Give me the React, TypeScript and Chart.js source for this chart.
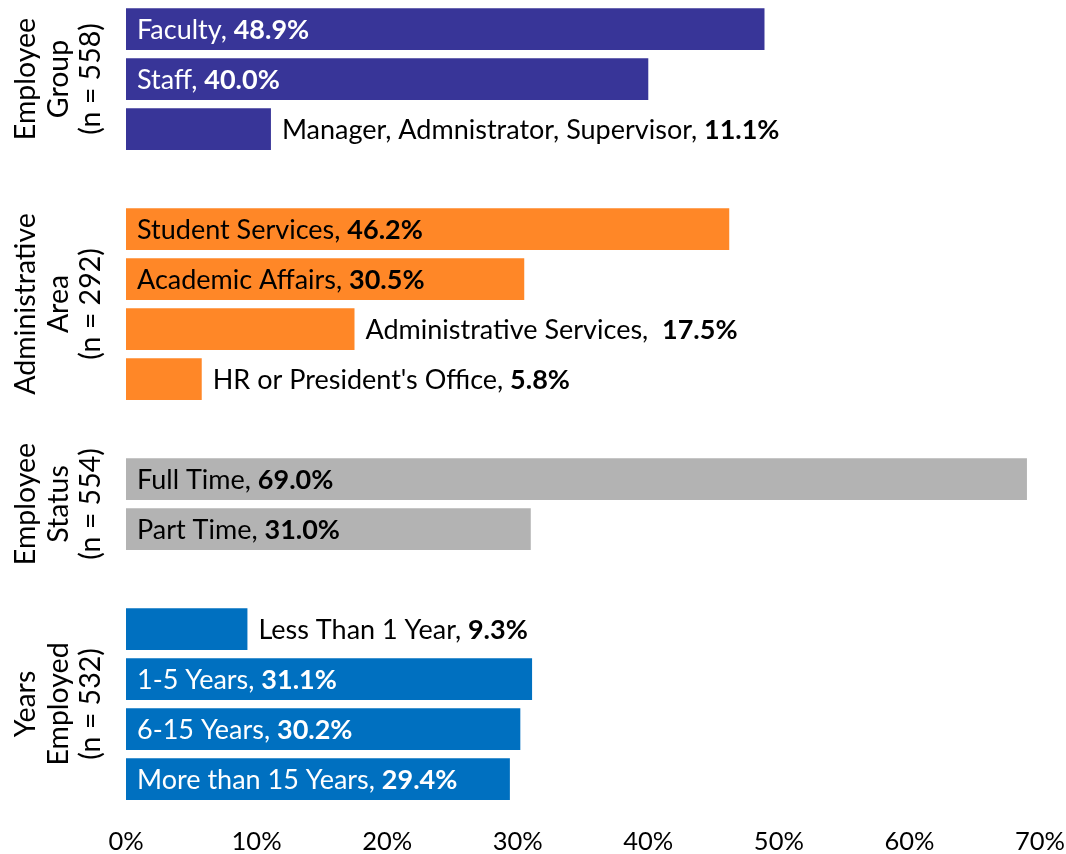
import React, { useEffect, useRef } from 'react';
import { Chart, registerables } from 'chart.js';

Chart.register(...registerables);

// ---- Data ----
const groupTitles: string[][] = [
  ['Employee', 'Group', '(n = 558)'],
  ['Administrative', 'Area', '(n = 292)'],
  ['Employee', 'Status', '(n = 554)'],
  ['Years', 'Employed', '(n = 532)'],
];

const employeeGroupCategories = ['Faculty', 'Staff', 'Manager, Admnistrator, Supervisor'];
const employeeGroupValues = [48.9, 40.0, 11.1];

const adminAreaCategories = ['Student Services', 'Academic Affairs', 'Administrative Services', "HR or President's Office"];
const adminAreaValues = [46.2, 30.5, 17.5, 5.8];
const adminAreaSeparators = [', ', ', ', ',  ', ', '];

const employeeStatusCategories = ['Full Time', 'Part Time'];
const employeeStatusValues = [69.0, 31.0];

const yearsCategories = ['Less Than 1 Year', '1-5 Years', '6-15 Years', 'More than 15 Years'];
const yearsValues = [9.3, 31.1, 30.2, 29.4];

const xTickValues = [0, 10, 20, 30, 40, 50, 60, 70];

// ---- Styles ----
const groupColors = ['#383598', '#FF8727', '#B3B3B3', '#0070C0'];
const groupInsideTextColors = ['#FFFFFF', '#000000', '#000000', '#FFFFFF'];
const FONT = 'Lato, "Open Sans", sans-serif';
const LABEL_SIZE = 27;

const groupCats = [employeeGroupCategories, adminAreaCategories, employeeStatusCategories, yearsCategories];
const groupVals = [employeeGroupValues, adminAreaValues, employeeStatusValues, yearsValues];
const groupSeps = [null, adminAreaSeparators, null, null];

// Build rows with spacer rows between groups
const rowLabels: string[] = [];
const rowValues: (number | null)[] = [];
const rowGroup: number[] = [];
const rowSeps: string[] = [];
groupCats.forEach((cats, g) => {
  if (g > 0) {
    rowLabels.push('');
    rowValues.push(null);
    rowGroup.push(-1);
    rowSeps.push('');
  }
  cats.forEach((c, i) => {
    rowLabels.push(c);
    rowValues.push(groupVals[g][i]);
    rowGroup.push(g);
    const s = groupSeps[g];
    rowSeps.push(s ? s[i] : ', ');
  });
});

const labelPlugin = {
  id: 'barLabels',
  afterDatasetsDraw(chart: any) {
    const ctx = chart.ctx;
    const meta = chart.getDatasetMeta(0);
    ctx.save();
    meta.data.forEach((el: any, i: number) => {
      const v = rowValues[i];
      if (v == null) return;
      const g = rowGroup[i];
      const inside = v >= 20;
      const normal = rowLabels[i] + rowSeps[i];
      const bold = v.toFixed(1) + '%';
      const startX = inside ? el.base + 11 : el.x + 11;
      const y = el.y + 9.5;
      ctx.fillStyle = inside ? groupInsideTextColors[g] : '#000000';
      ctx.textAlign = 'left';
      ctx.textBaseline = 'alphabetic';
      ctx.font = `${LABEL_SIZE}px ${FONT}`;
      ctx.fillText(normal, startX, y);
      const w = ctx.measureText(normal).width;
      ctx.font = `bold ${LABEL_SIZE}px ${FONT}`;
      ctx.fillText(bold, startX + w, y);
    });

    // Group titles (rotated)
    const yScale = chart.scales.y;
    let rowStart = 0;
    groupCats.forEach((cats, g) => {
      const first = rowStart;
      const last = rowStart + cats.length - 1;
      const cy = (yScale.getPixelForValue(first) + yScale.getPixelForValue(last)) / 2;
      const baselines = [35, 68, 100];
      ctx.fillStyle = '#000000';
      ctx.font = `28.5px ${FONT}`;
      ctx.textAlign = 'center';
      ctx.textBaseline = 'alphabetic';
      groupTitles[g].forEach((line, k) => {
        ctx.save();
        ctx.translate(baselines[k], cy);
        ctx.rotate(-Math.PI / 2);
        ctx.fillText(line, 0, 0);
        ctx.restore();
      });
      rowStart += cats.length + 1;
    });
    ctx.restore();
  },
};

export default function App() {
  const canvasRef = useRef<HTMLCanvasElement>(null);

  useEffect(() => {
    if (!canvasRef.current) return;
    const chart = new Chart(canvasRef.current, {
      type: 'bar',
      data: {
        labels: rowLabels,
        datasets: [
          {
            data: rowValues,
            backgroundColor: rowGroup.map((g) => (g >= 0 ? groupColors[g] : 'transparent')),
            barPercentage: 0.835,
            categoryPercentage: 1,
            borderWidth: 0,
          },
        ],
      },
      options: {
        indexAxis: 'y',
        responsive: false,
        animation: false,
        layout: { padding: { left: 126, right: 26, top: 4, bottom: 0 } },
        plugins: {
          legend: { display: false },
          tooltip: { enabled: false },
        },
        scales: {
          x: {
            min: 0,
            max: 70,
            grid: { display: false, drawTicks: false },
            border: { display: false },
            afterBuildTicks: (scale: any) => {
              scale.ticks = xTickValues.map((v) => ({ value: v }));
            },
            afterFit: (scale: any) => {
              scale.height = 50;
              scale.paddingLeft = 0;
              scale.paddingRight = 0;
            },
            ticks: {
              color: '#000000',
              font: { family: FONT, size: 25.5 },
              padding: 22,
              callback: (v: any) => v + '%',
            },
          },
          y: {
            display: false,
          },
        },
      },
      plugins: [labelPlugin],
    });
    return () => chart.destroy();
  }, []);

  return (
    <div style={{ position: 'absolute', left: 0, top: 0, width: 1066, height: 854, background: '#fff' }}>
      <canvas ref={canvasRef} width={1066} height={854} style={{ width: 1066, height: 854 }} />
    </div>
  );
}
